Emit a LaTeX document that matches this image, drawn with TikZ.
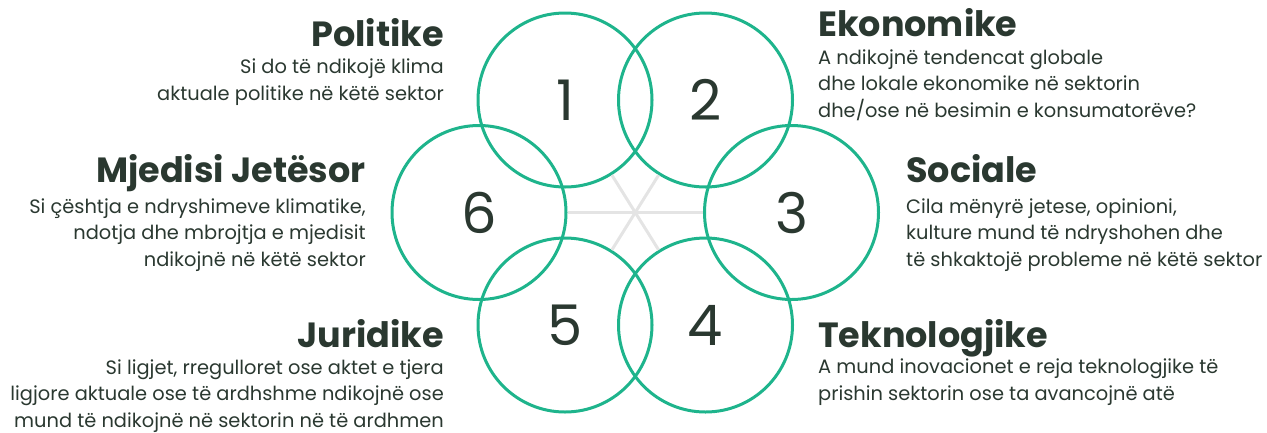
\documentclass[tikz,border=0pt]{standalone}
\usepackage{fontspec}
\setmainfont{Poppins}
\usetikzlibrary{positioning}
\definecolor{ringgreen}{RGB}{30,180,140}
\definecolor{inkdark}{RGB}{42,56,48}
\definecolor{spokegrey}{RGB}{228,228,228}

\begin{document}
\begin{tikzpicture}[x=1pt, y=-1pt,
	ring/.style={circle, draw=ringgreen, line width=3pt, minimum size=174pt, inner sep=0pt, text=inkdark, font=\fontsize{56}{56}\selectfont},
	spoke/.style={draw=spokegrey, line width=3pt},
	heading/.style={inner sep=0pt, text=inkdark, font=\bfseries\fontsize{35}{35}\selectfont},
	blurb/.style={inner sep=0pt, text=inkdark, font=\fontsize{19.4}{26.5}\selectfont}]
	\useasboundingbox (0,0) rectangle (1267,432);

	% the six circles
	\node[ring] (c1) at (565,100) {1};
	\node[ring] (c2) at (705.5,100) {2};
	\node[ring] (c3) at (791.5,212.5) {3};
	\node[ring] (c4) at (705.5,325) {4};
	\node[ring] (c5) at (565,325) {5};
	\node[ring] (c6) at (479,212.5) {6};

	% spokes through the middle
	\draw[spoke] (c1) -- (c4);
	\draw[spoke] (c2) -- (c5);
	\draw[spoke] (c6) -- (c3);

	% left side (blurbs sit on the baseline of their last line)
	\node[heading, anchor=base east] (pol) at (444,46) {Politike};
	\node[blurb, anchor=base east, align=right] (polt) at (444,100) {Si do të ndikojë klima\\aktuale politike në këtë sektor};
	\node[heading, anchor=base east] (mje) at (366,182) {Mjedisi Jetësor};
	\node[blurb, anchor=base east, align=right] (mjet) at (366,266) {Si çështja e ndryshimeve klimatike,\\ndotja dhe mbrojtja e mjedisit\\ndikojnë në këtë sektor};
	\node[heading, anchor=base east] (jur) at (444,347) {Juridike};
	\node[blurb, anchor=base east, align=right] (jurt) at (444,427) {Si ligjet, rregulloret ose aktet e tjera\\ligjore aktuale ose të ardhshme ndikojnë ose\\mund të ndikojnë në sektorin në të ardhmen};

	% right side
	\node[heading, anchor=base west] (eko) at (818,36) {Ekonomike};
	\node[blurb, anchor=base west, align=left] (ekot) at (818,117) {A ndikojnë tendencat globale\\dhe lokale ekonomike në sektorin\\dhe/ose në besimin e konsumatorëve?};
	\node[heading, anchor=base west] (soc) at (906,182) {Sociale};
	\node[blurb, anchor=base west, align=left] (soct) at (906,266) {Cila mënyrë jetese, opinioni,\\kulture mund të ndryshohen dhe\\të shkaktojë probleme në këtë sektor};
	\node[heading, anchor=base west] (tek) at (818,347) {Teknologjike};
	\node[blurb, anchor=base west, align=left] (tekt) at (818,400) {A mund inovacionet e reja teknologjike të\\prishin sektorin ose ta avancojnë atë};
\end{tikzpicture}
\end{document}
